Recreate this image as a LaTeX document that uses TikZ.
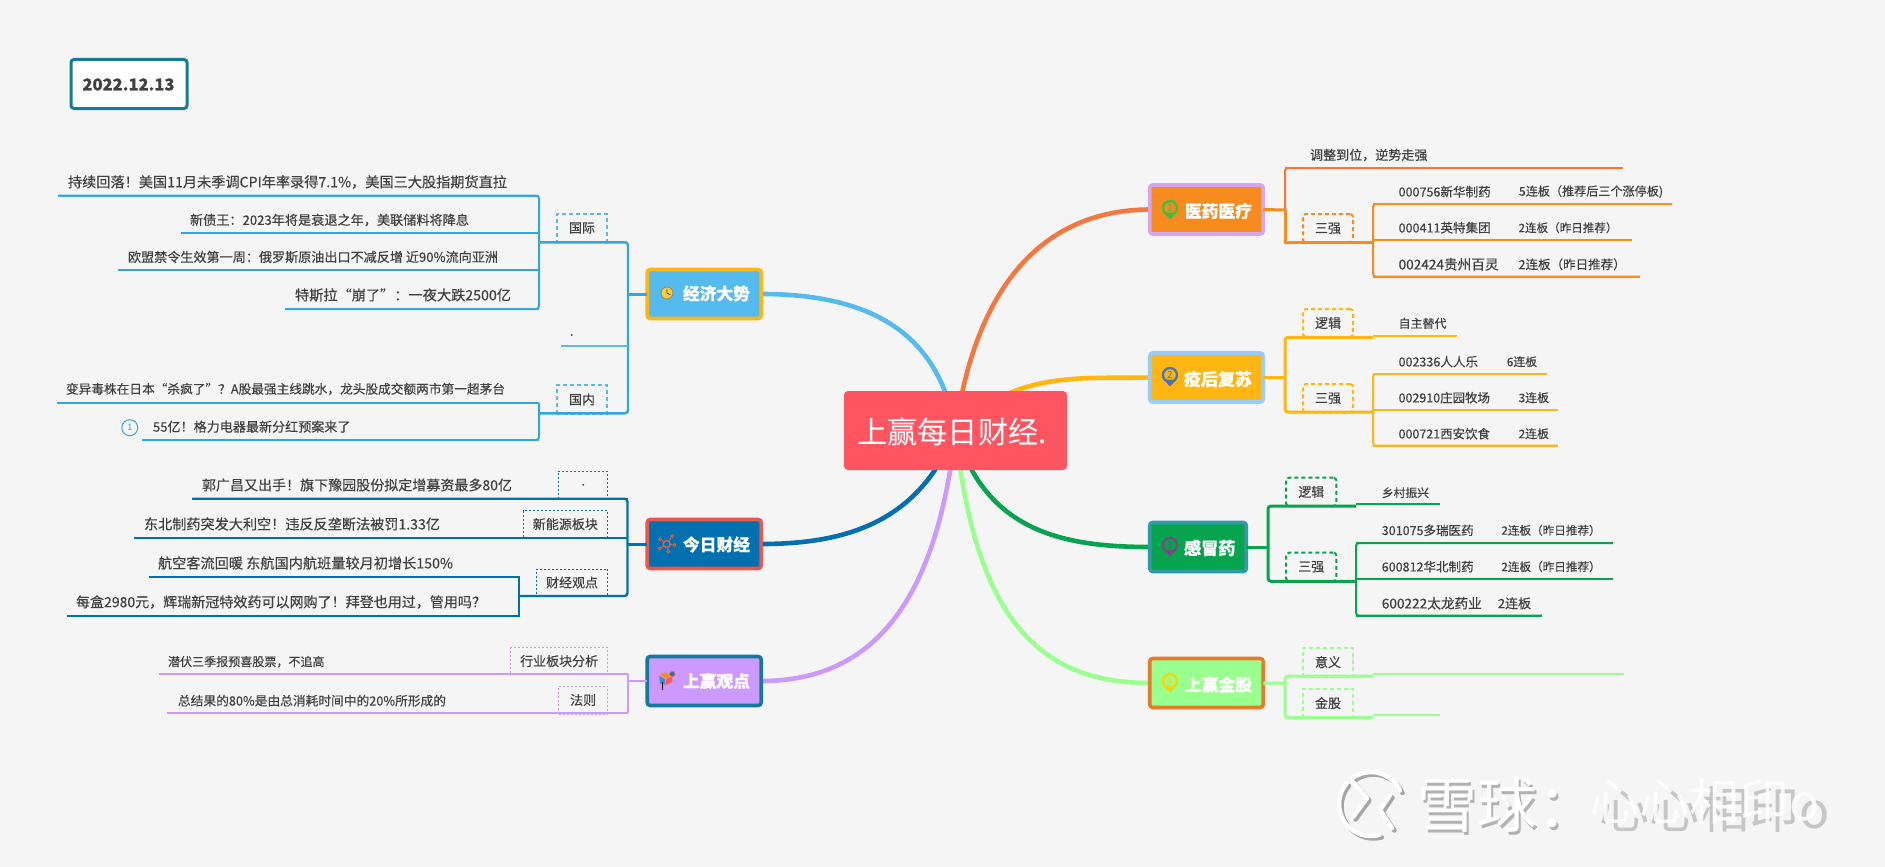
\documentclass[tikz,border=0pt]{standalone}
\usepackage{graphicx}
\usepackage{fontspec}
\setmainfont{Noto Sans CJK SC}[FakeBold=0.25]
\newfontfamily\plainf{Noto Sans CJK SC}
\definecolor{bgc}{HTML}{F5F5F5}
\definecolor{txt}{HTML}{404040}
\definecolor{cEcoF}{HTML}{55BBEE}
\definecolor{cEco}{HTML}{33A6DD}
\definecolor{cOra}{HTML}{FFB612}
\definecolor{cBlu}{HTML}{0070B0}
\definecolor{cRed}{HTML}{E6574F}
\definecolor{cPur}{HTML}{CC99FF}
\definecolor{cTea}{HTML}{157A9A}
\definecolor{cMed}{HTML}{F78B1E}
\definecolor{cCoral}{HTML}{F3773F}
\definecolor{cLil}{HTML}{D5A6EE}
\definecolor{cSky}{HTML}{99CCFA}
\definecolor{cGrn}{HTML}{06A44E}
\definecolor{cGb}{HTML}{3399A8}
\definecolor{cLg}{HTML}{99FF8E}
\definecolor{cOb}{HTML}{E87A28}
\definecolor{cCen}{HTML}{FF5561}
\pgfdeclarelayer{back}
\pgfdeclarelayer{curves}
\pgfsetlayers{back,curves,main}
\tikzset{
  lf/.style={inner sep=0pt,outer sep=0pt,text=txt},
  wh/.style={inner sep=0pt,outer sep=0pt,text=white},
  topic/.style={rounded corners=3pt,line width=3.6pt,inner sep=0pt,outer sep=0pt,minimum height=49pt},
  bcurve/.style={line width=4.6pt},
  lnk/.style={line width=2pt},
  dbx/.style={inner sep=0pt,outer sep=0pt,text=txt,font=\fontsize{13}{15}\selectfont},
  pth/.style={rounded corners=3pt}
}
% text fitted to a width: left x, right x, centre y
\newcommand\Tx[6][lf]{%
  \pgfmathsetmacro\tw{#4-#3}\pgfmathsetmacro\tc{(#3+#4)/2}%
  \node[#1] (#2) at (\tc,#5) {\resizebox{\tw pt}{!}{\fontsize{14}{16}\selectfont #6}};}
% leaf: name, line left, line right, line y, text left, text right, text y, text
\newcommand\Lf[8]{%
  \coordinate (#1l) at (#2,#4);\coordinate (#1r) at (#3,#4);
  \draw[lnk] (#1l) -- (#1r);
  \Tx{#1}{#5}{#6}{#7}{#8}}
% dashed box: style, name, x1, x2, y1, y2, text
\newcommand\DB[7]{%
  \pgfmathsetmacro\bw{#4-#3}\pgfmathsetmacro\bh{#6-#5}\pgfmathsetmacro\bx{(#3+#4)/2}\pgfmathsetmacro\by{(#5+#6)/2}%
  \node[dbx,#1,minimum width=\bw pt,minimum height=\bh pt] (#2) at (\bx,\by) {#7};}
% map pin: name, x, y, colour, number
\newcommand\Pin[5]{%
  \fill[#4] (#2-6.6,#3+4.6) -- (#2,#3+11.3) -- (#2+6.6,#3+4.6) -- cycle;
  \node[circle,draw=#4,line width=2.3pt,inner sep=0pt,minimum size=14pt,text=#4,font=\plainf\fontsize{10}{10}\selectfont] (#1) at (#2,#3) {#5};}
\begin{document}
\begin{tikzpicture}[x=1pt,y=-1pt]
\useasboundingbox (0,0) rectangle (1885,867);
\begin{pgfonlayer}{back}
\fill[bgc] (0,0) rectangle (1885,867);
\end{pgfonlayer}

% centre
\node[fill=cCen,rounded corners=4pt,minimum width=223pt,minimum height=79pt,inner sep=0pt,outer sep=0pt] (root) at (955.5,430.5) {};
\Tx[wh]{roott}{857}{1047}{431.5}{\plainf 上赢每日财经.}

% date
\node[draw=cTea,fill=white,line width=3pt,rounded corners=3pt,minimum width=116pt,minimum height=49pt,inner sep=0pt,outer sep=0pt] (date) at (129,84) {};
\Tx{datet}{82.5}{174.5}{84.5}{\bfseries 2022.12.13}

% ===== topics =====
\node[topic,draw=cOra,fill=cEcoF,minimum width=114pt] (eco) at (704.2,294) {};
\Tx[wh]{ecot}{683}{750}{293.5}{\bfseries 经济大势}
\node[topic,draw=cRed,fill=cBlu,minimum width=114pt] (tod) at (704.2,544) {};
\Tx[wh]{todt}{683}{750}{544.5}{\bfseries 今日财经}
\node[topic,draw=cTea,fill=cPur,minimum width=114pt] (obs) at (704.2,681) {};
\Tx[wh]{obst}{683}{750}{681}{\bfseries 上赢观点}
\node[topic,draw=cLil,fill=cMed,minimum width=113.5pt] (med) at (1206.5,209.5) {};
\Tx[wh]{medt}{1185}{1252}{211}{\bfseries 医药医疗}
\node[topic,draw=cSky,fill=cOra,minimum width=113.5pt] (rec) at (1206.5,377.5) {};
\Tx[wh]{rect}{1184}{1252}{379}{\bfseries 疫后复苏}
\node[topic,draw=cGb,fill=cGrn,minimum width=96.5pt] (flu) at (1198,547) {};
\Tx[wh]{flut}{1184}{1235.5}{548}{\bfseries 感冒药}
\node[topic,draw=cOb,fill=cLg,minimum width=113.5pt] (gold) at (1206.5,683) {};
\Tx[wh]{goldt}{1185}{1252}{684.5}{\bfseries 上赢金股}

% ===== main curves =====
\begin{pgfonlayer}{curves}
\draw[bcurve,cEcoF] (eco.east) .. controls (880,294) and (940,340) .. (root.center);
\draw[bcurve,cCoral] (med.west) .. controls (1040,210) and (975,290) .. (root.center);
\draw[bcurve,cOra] (rec.west) .. controls (1080,379) and (1015,370) .. (root.center);
\draw[bcurve,cGrn] (flu.west) .. controls (1060,547) and (985,530) .. (root.center);
\draw[bcurve,cLg] (gold.west) .. controls (1040,683) and (975,620) .. (root.center);
\draw[bcurve,cBlu] (tod.east) .. controls (850,544) and (920,520) .. (root.center);
\draw[bcurve,cPur] (obs.east) .. controls (860,681) and (935,620) .. (root.center);
\end{pgfonlayer}

% ===== icons =====
\node[circle,draw=black!45!yellow!60!gray,fill=yellow!55!orange!75,line width=1pt,minimum size=12pt,inner sep=0pt] (clock) at (667,293) {};
\draw[line width=.9pt,black!70] (clock.center) -- (667,288.5) (clock.center) -- (670.5,295);
\node[circle,draw=cRed!80!orange,line width=1.4pt,minimum size=7pt,inner sep=0pt] (hub) at (666.7,544) {};
\foreach \i/\a/\b in {1/660.2/539.3,2/672.3/536,3/674.6/545,4/668.4/551.5,5/659.8/548.5}{
  \node[circle,draw=cRed!80!orange,line width=.9pt,minimum size=3pt,inner sep=0pt] (sat\i) at (\a,\b) {};
  \draw[cRed!80!orange,line width=.9pt] (hub) -- (sat\i);
}
\fill[orange!90!yellow] (660,675) -- (665,672.3) -- (670,675) -- (666.7,678.3) -- cycle;
\fill[cyan!60!blue!80] (659.3,675.7) -- (665,679.3) -- (665,685) -- (660,683.3) -- cycle;
\fill[red!65!white] (666,679) -- (672.3,675.7) -- (672.3,681.7) -- (666,685) -- cycle;
\filldraw[fill=cyan!55!blue,draw=red!60!white,line width=.8pt] (672.3,674) circle (2.8);
\draw[black,line width=.9pt] (662.7,681.7) -- (662.7,690);
\Pin{pin1}{1170}{208}{green!50!gray}{1}
\Pin{pin2}{1170}{375}{cyan!45!blue!70!gray}{2}
\Pin{pin3}{1170}{545}{violet!45!gray}{3}
\Pin{pin4}{1170}{681}{yellow!70!orange}{4}

% ===== 经济大势 branch =====
\begin{scope}[lnk/.style={line width=2pt,cEco},dbx/.append style={draw=cEcoF,line width=2pt,dash pattern=on 4pt off 3pt}]
\DB{}{bIntl}{557}{607}{214}{242}{国际}
\DB{}{bDom}{557}{607}{385}{414}{国内}
\Lf{a1}{58}{539}{195.7}{68}{507}{182}{持续回落！美国11月未季调CPI年率录得7.1\%，美国三大股指期货直拉}
\Lf{a2}{181}{539}{232.7}{190}{469}{220}{新债王：2023年将是衰退之年，美联储料将降息}
\Lf{a3}{118}{539}{270}{128}{498}{257}{欧盟禁令生效第一周：俄罗斯原油出口不减反增 近90\%流向亚洲}
\Lf{a4}{285}{539}{309}{295}{511}{295}{特斯拉“崩了”：一夜大跌2500亿}
\draw[lnk,pth] (a1l) -- (a1r) -- (a4r) -- (a4l);
\Lf{b1}{57}{539}{403}{66}{505}{389}{变异毒株在日本“杀疯了”？A股最强主线跳水，龙头股成交额两市第一超茅台}
\Lf{b2}{142.4}{539}{440}{153}{350.5}{426.7}{55亿！格力电器最新分红预案来了}
\draw[lnk,pth] (b1r) -- (b2r) -- (b2l);
\node[circle,draw=cEco,line width=1pt,minimum size=16pt,inner sep=0pt,text=cEco,font=\plainf\fontsize{9}{9}\selectfont] (num1) at (129.8,427.7) {1};
\coordinate (eJ1) at (539,242.3);\coordinate (eJ2) at (539,413.3);\coordinate (eT1) at (628,242.3);\coordinate (eT2) at (628,413.3);\coordinate (eS) at (628,294);
\draw[lnk,pth,line width=2.4pt] (eJ1) -- (eT1) -- (eT2) -- (eJ2);
\draw[lnk,line width=3pt] (eco.west) -- (eS);
\coordinate (eD) at (560.5,345.7);\coordinate (eD2) at (628,345.7);
\draw[line width=2pt,cEcoF] (eD) -- (eD2);
\Tx{dot1}{570}{573.5}{335}{.}
\end{scope}

% ===== 今日财经 branch =====
\begin{scope}[lnk/.style={line width=2pt,cBlu},dbx/.append style={draw=cBlu,line width=.9pt,dash pattern=on 2pt off 2pt}]
\DB{}{bDot}{558.6}{607.7}{471}{498.5}{.}
\DB{}{bNew}{523}{607.7}{510.7}{537.5}{新能源板块}
\DB{}{bFin}{536.5}{607.7}{569}{596}{财经观点}
\Lf{c1}{192.4}{627.5}{498.7}{202}{512}{485}{郭广昌又出手！旗下豫园股份拟定增募资最多80亿}
\Lf{c2}{134}{627.5}{537.5}{144}{440}{524}{东北制药突发大利空！违反反垄断法被罚1.33亿}
\Lf{c3}{148.5}{519}{577}{158}{453}{563}{航空客流回暖 东航国内航班量较月初增长150\%}
\Lf{c4}{67}{519}{615.7}{76}{486}{602}{每盒2980元，辉瑞新冠特效药可以网购了！拜登也用过，管用吗？}
\draw[lnk] (c3l) -- (c3r) -- (c4r) -- (c4l);
\coordinate (tJ) at (519,596);\coordinate (tT) at (627.5,596);\coordinate (tS) at (627.5,544);
\draw[lnk,pth,line width=2.4pt] (c1l) -- (c1r) -- (tT) -- (tJ);
\draw[lnk,line width=3pt] (tod.west) -- (tS);
\end{scope}

% ===== 上赢观点 branch =====
\begin{scope}[lnk/.style={line width=2pt,cPur},dbx/.append style={draw=cPur,line width=.9pt,dash pattern=on 2pt off 2pt}]
\DB{}{bInd}{510.5}{607.7}{647.7}{674.5}{行业板块分析}
\DB{}{bLaw}{558.6}{607.7}{686}{714}{法则}
\Lf{d1}{159}{627.5}{674}{168}{324.6}{661.7}{潜伏三季报预喜股票，不追高}
\Lf{d2}{167.4}{627.5}{713}{178}{446}{700.7}{总结果的80\%是由总消耗时间中的20\%所形成的}
\coordinate (oS) at (627.5,681);
\draw[lnk,pth] (d1r) -- (d2r);
\draw[lnk,line width=2.6pt] (obs.west) -- (oS);
\end{scope}

% ===== 医药医疗 branch =====
\begin{scope}[lnk/.style={line width=2pt,cMed},dbx/.append style={draw=cMed,line width=2pt,dash pattern=on 4pt off 3pt,rounded corners=3pt}]
\DB{}{bS1}{1303}{1353}{214}{242.7}{三强}
\coordinate (mT) at (1285,210);\coordinate (mJ) at (1285,242.7);\coordinate (mJ2) at (1373,242.7);
\draw[lnk,line width=3pt] (mT) -- (mJ) -- (mJ2);
\draw[lnk,line width=3pt] (med.east) -- (mT);
\Lf{m0}{1285}{1623}{168}{1310}{1427.5}{155}{调整到位，逆势走强}
\draw[lnk,cCoral,pth] (mT) -- (m0l) -- (m0r);
\Lf{m1}{1373}{1672}{204}{1398.6}{1490.7}{191.7}{000756新华制药}
\Tx{m1s}{1519}{1663}{191.7}{5连板（推荐后三个涨停板)}
\Lf{m2}{1373}{1632}{239.7}{1398.6}{1490.7}{227.7}{000411英特集团}
\Tx{m2s}{1518.6}{1617.5}{227.7}{2连板（昨日推荐）}
\Lf{m3}{1373}{1640}{276.7}{1398.6}{1498.6}{264.3}{002424贵州百灵}
\Tx{m3s}{1518.6}{1625.7}{264.3}{2连板（昨日推荐）}
\draw[lnk,pth] (m1r) -- (m1l) -- (m3l) -- (m3r);
\end{scope}

% ===== 疫后复苏 branch =====
\begin{scope}[lnk/.style={line width=2pt,cOra},dbx/.append style={draw=cOra,line width=2pt,dash pattern=on 4pt off 3pt,rounded corners=3pt}]
\DB{}{bL1}{1303}{1353}{309}{337}{逻辑}
\DB{}{bS2}{1303}{1353}{384}{412.5}{三强}
\coordinate (rT) at (1285,377.7);\coordinate (rA) at (1285,337.3);\coordinate (rA2) at (1373,337.3);\coordinate (rB) at (1285,412);\coordinate (rB2) at (1373,412);
\draw[lnk,line width=3pt,pth] (rA2) -- (rA) -- (rB) -- (rB2);
\draw[lnk,line width=3pt] (rec.east) -- (rT);
\Lf{r0}{1373}{1457}{335.7}{1398.6}{1446.4}{323.3}{自主替代}
\Lf{r1}{1373}{1547}{374}{1398.6}{1478}{361.7}{002336人人乐}
\Tx{r1s}{1506.8}{1537}{361.7}{6连板}
\Lf{r2}{1373}{1557.5}{410}{1398.6}{1490}{397.7}{002910庄园牧场}
\Tx{r2s}{1518.6}{1549}{397.7}{3连板}
\Lf{r3}{1373}{1557.5}{445.7}{1398.6}{1490}{433.7}{000721西安饮食}
\Tx{r3s}{1518.6}{1549}{433.7}{2连板}
\draw[lnk,pth] (r1r) -- (r1l) -- (r3l) -- (r3r);
\end{scope}

% ===== 感冒药 branch =====
\begin{scope}[lnk/.style={line width=2pt,cGrn},dbx/.append style={draw=cGrn,line width=2pt,dash pattern=on 4pt off 3pt,rounded corners=3pt}]
\DB{}{bL2}{1286}{1336.4}{477.7}{506}{逻辑}
\DB{}{bS3}{1286}{1336.4}{552.7}{581}{三强}
\coordinate (fT) at (1268,547);\coordinate (fA) at (1268,506);\coordinate (fA2) at (1356,506);\coordinate (fB) at (1268,581.3);\coordinate (fB2) at (1356,581.3);
\draw[lnk,line width=3pt,pth] (fA2) -- (fA) -- (fB) -- (fB2);
\draw[lnk,line width=3pt] (flu.east) -- (fT);
\Lf{f0}{1356}{1439.6}{504}{1381.8}{1429}{492.7}{乡村振兴}
\Lf{f1}{1356}{1613}{543}{1381.8}{1473.6}{530.3}{301075多瑞医药}
\Tx{f1s}{1501.4}{1600.7}{530.3}{2连板（昨日推荐）}
\Lf{f2}{1356}{1613}{578.7}{1381.8}{1473.6}{566.7}{600812华北制药}
\Tx{f2s}{1501.4}{1600.7}{566.7}{2连板（昨日推荐）}
\Lf{f3}{1356}{1541.8}{615.7}{1381.8}{1481.8}{603.3}{600222太龙药业}
\Tx{f3s}{1497.9}{1531}{603.3}{2连板}
\draw[lnk,pth] (f1r) -- (f1l) -- (f3l) -- (f3r);
\end{scope}

% ===== 上赢金股 branch =====
\begin{scope}[lnk/.style={line width=2pt,cLg},dbx/.append style={draw=cLg,line width=2pt,dash pattern=on 4pt off 3pt}]
\DB{}{bM}{1303}{1353}{647.7}{676.5}{意义}
\DB{}{bG}{1303}{1353}{688.7}{717.5}{金股}
\coordinate (gT) at (1285,683.3);\coordinate (gA) at (1285,676);\coordinate (gA2) at (1373,676);\coordinate (gB) at (1285,717.7);\coordinate (gB2) at (1373,717.7);
\coordinate (gC) at (1373,674.3);\coordinate (gC2) at (1624,674.3);\coordinate (gD) at (1373,715.3);\coordinate (gD2) at (1439.6,715.3);
\draw[lnk,line width=3pt,pth] (gA2) -- (gA) -- (gB) -- (gB2);
\draw[lnk,line width=3pt] (gold.east) -- (gT);
\draw[lnk] (gC) -- (gC2);
\draw[lnk] (gD) -- (gD2);
\end{scope}

% ===== watermark =====
\foreach \dx/\dy/\col in {2.5/2.5/gray!70,0/0/white}{
  \begin{scope}[shift={(\dx,\dy)},\col,line width=4.5pt,line cap=round,line join=round]
  \draw (1400,790.5) arc[start angle=-25,end angle=-125,radius=32];
  \draw (1346.5,783.4) arc[start angle=-140,end angle=-285,radius=32];
  \draw (1353,782) -- (1367,798) -- (1353,817);
  \draw (1390,795) -- (1380,810) -- (1392,828);
  \end{scope}
}
\node[anchor=west,inner sep=0pt,text=gray!60,font=\plainf\fontsize{60}{60}\selectfont] (wm0s) at (1419.5,807.5) {雪球：};
\node[anchor=west,inner sep=0pt,text=white,font=\plainf\fontsize{60}{60}\selectfont] (wm0) at (1417,805) {雪球：};
\node[anchor=west,inner sep=0pt,text=gray!45,font=\plainf\fontsize{50}{50}\selectfont] (wm1s) at (1599,809) {心心相印o};
\node[anchor=west,inner sep=0pt,text=white,opacity=.85,font=\plainf\fontsize{50}{50}\selectfont] (wm1) at (1589,801) {心心相印o};
\end{tikzpicture}
\end{document}
